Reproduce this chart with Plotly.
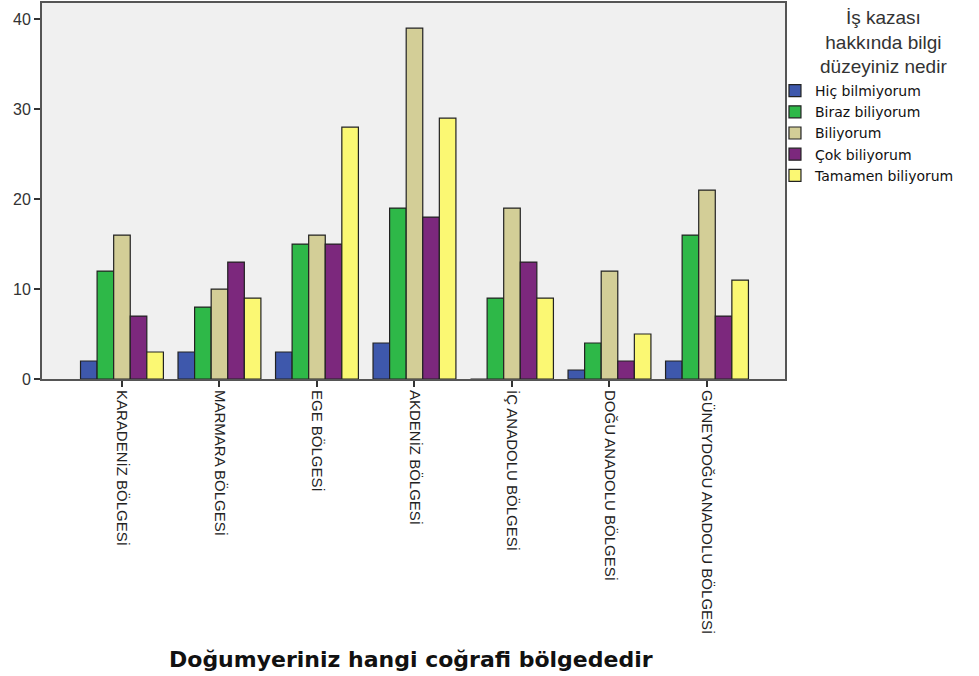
import plotly.graph_objects as go

regions = ["KARADENİZ BÖLGESİ", "MARMARA BÖLGESİ", "EGE BÖLGESİ", "AKDENİZ BÖLGESİ",
           "İÇ ANADOLU BÖLGESİ", "DOĞU ANADOLU BÖLGESİ", "GÜNEYDOĞU ANADOLU BÖLGESİ"]
series_names = ["Hiç bilmiyorum", "Biraz biliyorum", "Biliyorum", "Çok biliyorum", "Tamamen biliyorum"]
hic = [2, 3, 3, 4, 0, 1, 2]
biraz = [12, 8, 15, 19, 9, 4, 16]
biliyorum = [16, 10, 16, 39, 19, 12, 21]
cok = [7, 13, 15, 18, 13, 2, 7]
tamamen = [3, 9, 28, 29, 9, 5, 11]
series_values = [hic, biraz, biliyorum, cok, tamamen]
colors = ["#3E58AC", "#2EB848", "#D3CE97", "#7C287D", "#FBF873"]
y_ticks = [0, 10, 20, 30, 40]
legend_title = "İş kazası<br>hakkında bilgi<br>düzeyiniz nedir"
x_title = "Doğumyeriniz hangi coğrafi bölgededir"

fig = go.Figure()
for name, vals, col in zip(series_names, series_values, colors):
    fig.add_trace(go.Bar(
        x=list(range(len(regions))), y=vals, name=name,
        marker=dict(color=col, line=dict(color="#222222", width=1.2)),
    ))

fig.add_annotation(
    text=legend_title, xref="paper", yref="paper", x=1.132, y=0.996,
    xanchor="center", yanchor="top", showarrow=False, align="center",
    font=dict(size=19, color="#333333", family="Liberation Sans, Arial, sans-serif"),
)
fig.add_annotation(
    text="<b>" + x_title + "</b>", xref="paper", yref="paper", x=0.497, y=-0.747,
    xanchor="center", yanchor="middle", showarrow=False,
    font=dict(size=22, color="#111111", family="DejaVu Sans, sans-serif"),
)

fig.update_layout(
    width=979, height=676,
    barmode="group", bargap=0.15, bargroupgap=0,
    paper_bgcolor="white", plot_bgcolor="#F0F0F0",
    margin=dict(l=42, r=194, t=3, b=297, autoexpand=False),
    font=dict(family="Liberation Sans, Arial, sans-serif", color="#222222"),
    showlegend=True,
    legend=dict(
        font=dict(size=14, color="#111111", family="DejaVu Sans, sans-serif"),
        x=0.9865, xanchor="left", y=0.8085, yanchor="top",
        bgcolor="rgba(0,0,0,0)", tracegroupgap=0,
    ),
    xaxis=dict(
        tickmode="array", tickvals=list(range(len(regions))), ticktext=regions,
        tickangle=90, tickfont=dict(size=15, color="#222222"),
        range=[-0.82, 6.8],
        showline=True, linecolor="#555555", linewidth=2, mirror=True,
        ticks="outside", ticklen=6, tickcolor="#333333", tickwidth=1.5,
        showgrid=False, zeroline=False,
    ),
    yaxis=dict(
        range=[0, 41.8], tickvals=y_ticks,
        tickfont=dict(size=16, color="#333333"),
        showline=True, linecolor="#555555", linewidth=2, mirror=True,
        ticks="outside", ticklen=6, tickcolor="#333333", tickwidth=1.5,
        showgrid=False, zeroline=False,
    ),
)

fig.write_html("out.html", config={"displayModeBar": False},
               post_script="document.body.style.margin='0';")
